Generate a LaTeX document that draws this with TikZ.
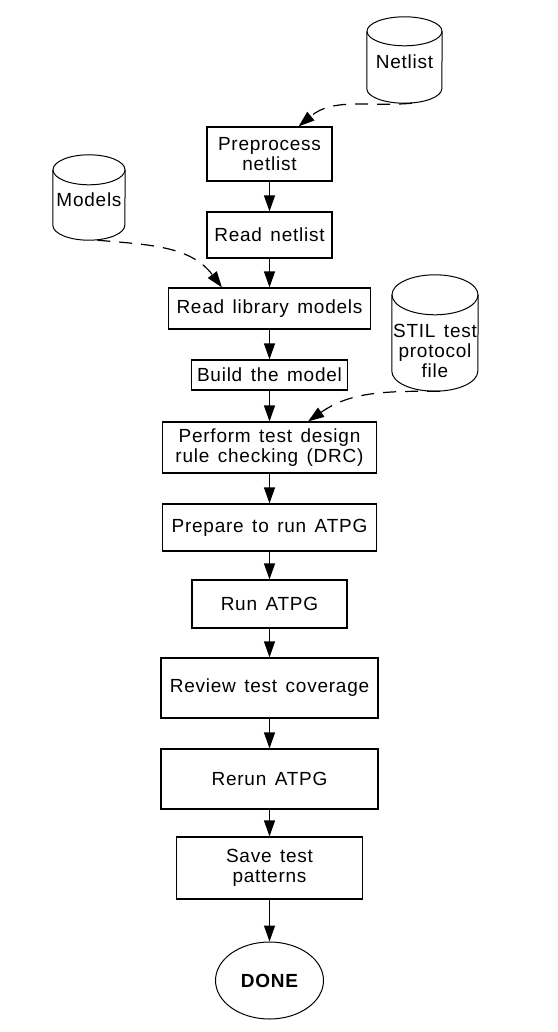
\documentclass[tikz,border=0pt]{standalone}
\usepackage{fontspec}
\setmainfont{Liberation Sans}[LetterSpace=4, WordSpace=1.4]
\usetikzlibrary{arrows.meta, shapes.geometric, positioning}

\tikzset{
  procbox/.style={draw, line width=1.2pt, align=center, inner sep=2pt},
  store/.style={inner sep=0pt},
  can/.style={line width=1pt},
  flow/.style={-{Triangle[length=16pt,width=11pt]}, line width=1.2pt},
  feed/.style={flow, dash pattern=on 13pt off 9pt},
}

\begin{document}
\begin{tikzpicture}[x=1pt, y=1pt, on grid, font=\fontsize{19}{20}\selectfont]
    \useasboundingbox (0,0) rectangle (557,-1032);

    % Steps
    \node[procbox, minimum width=125pt, minimum height=54pt] (pre) at (269.5,-154) {Preprocess\\netlist};
    \node[procbox, minimum width=125pt, minimum height=46pt] (rn) [below=81pt of pre] {Read netlist};
    \node[procbox, minimum width=202pt, minimum height=41pt] (rl) [below=73.5pt of rn] {Read library models};
    \node[procbox, minimum width=156pt, minimum height=30pt] (bm) [below=66.5pt of rl] {Build the model};
    \node[procbox, minimum width=214pt, minimum height=51pt] (drc) [below=72.5pt of bm] {Perform test design\\rule checking (DRC)};
    \node[procbox, minimum width=214pt, minimum height=47pt] (prep) [below=80pt of drc] {Prepare to run ATPG};
    \node[procbox, minimum width=155pt, minimum height=48pt] (run) [below=76.5pt of prep] {Run ATPG};
    \node[procbox, minimum width=217pt, minimum height=60pt] (rev) [below=84pt of run] {Review test coverage};
    \node[procbox, minimum width=217pt, minimum height=60pt] (rerun) [below=91pt of rev] {Rerun ATPG};
    \node[procbox, minimum width=186pt, minimum height=62pt] (save) [below=89pt of rerun] {Save test\\patterns};
    \node[ellipse, draw, line width=1pt, minimum width=108pt, minimum height=77pt, inner sep=0pt,
      font=\fontsize{19}{20}\selectfont\bfseries] (done) [below=112.5pt of save] {DONE};

    % Inputs
    \node[store, minimum width=75pt, minimum height=86pt, label={[yshift=-2pt]center:Netlist}] (nl) at (404.5,-60) {};
    \node[store, minimum width=72pt, minimum height=85pt, label={[yshift=-2pt]center:Models}] (mod) at (89,-197.5) {};
    \node[store, minimum width=86pt, minimum height=116pt,
      label={[align=center, yshift=-18pt]center:STIL test\\protocol\\file}] (stil) at (435,-333) {};
    \foreach \c/\w/\r in {nl/37.5/14.5, mod/36/15, stil/43/20} {
        \draw[can] ([yshift=-\r pt]\c.north) ellipse [x radius=\w, y radius=\r];
        \draw[can] ([yshift=-\r pt]\c.north west) -- ([yshift=\r pt]\c.south west)
            arc [start angle=180, end angle=360, x radius=\w, y radius=\r]
            -- ([yshift=-\r pt]\c.north east);
    }

    % Flow
    \path[flow]
    (pre) edge (rn)
    (rn) edge (rl)
    (rl) edge (bm)
    (bm) edge (drc)
    (drc) edge (prep)
    (prep) edge (run)
    (run) edge (rev)
    (rev) edge (rerun)
    (rerun) edge (save)
    (save) edge (done)
    ;

    \path[feed]
    (nl.-80) edge [out=185, in=40] ([xshift=-34pt]pre.north east)
    (mod.-79) edge [out=-5, in=127] ([xshift=54pt]rl.north west)
    (stil.-85) edge [out=180, in=35] ([xshift=-69pt]drc.north east)
    ;
\end{tikzpicture}
\end{document}
